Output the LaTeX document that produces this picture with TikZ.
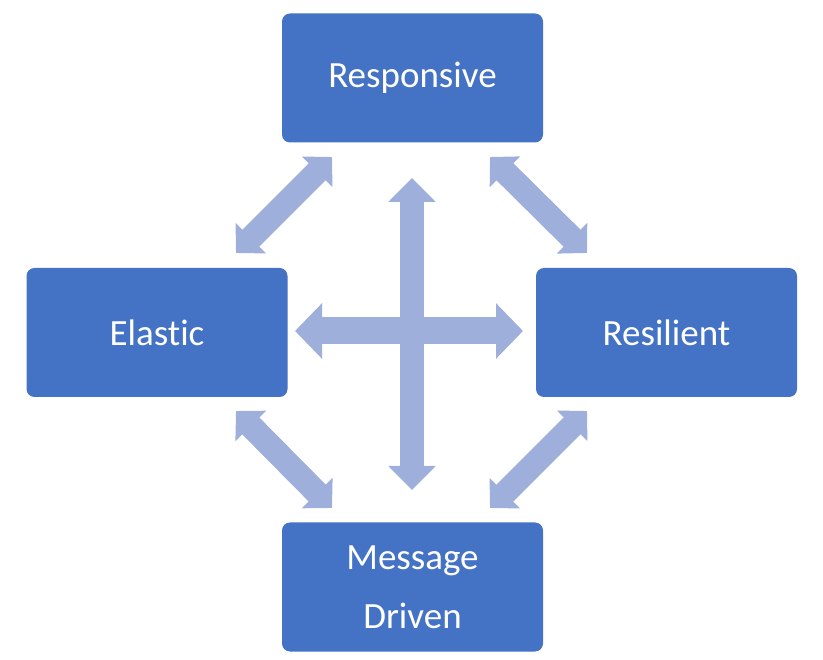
\documentclass[tikz,border=0pt]{standalone}
\usepackage{fontspec}
\setmainfont[Ligatures={NoCommon,NoDiscretionary}]{Carlito}
\usepackage{xcolor}
\usepackage{tikz}
\usetikzlibrary{arrows.meta}
\definecolor{boxblue}{HTML}{4472C4}
\definecolor{arrowblue}{HTML}{9EAFDB}
\tikzstyle{box}=[fill=boxblue, draw=none, shape=rectangle, rounded corners=8pt, minimum width=261pt, minimum height=129pt, text=white, align=center, font=\fontsize{37}{59}\selectfont]
\tikzstyle{straight arrow}=[draw=arrowblue, line width=24pt, {Triangle[length=24pt,width=46pt]}-{Triangle[length=24pt,width=46pt]}]
\tikzstyle{wide arrow}=[draw=arrowblue, line width=27pt, {Triangle[length=27pt,width=54pt]}-{Triangle[length=27pt,width=54pt]}]
\tikzstyle{diagonal arrow}=[draw=arrowblue, line width=24pt, {Triangle[length=21pt,width=42pt]}-{Triangle[length=21pt,width=42pt]}]
\pgfdeclarelayer{nodelayer}
\pgfdeclarelayer{edgelayer}
\pgfsetlayers{nodelayer,edgelayer}
\begin{document}
\begin{tikzpicture}[x=1pt, y=-1pt]
    	\useasboundingbox (0, 0) rectangle (823, 660);
    	\begin{pgfonlayer}{nodelayer}
    		\node [style=box] (0) at (412.5, 78) {Responsive};
    		\node [style=box] (1) at (157, 332.5) {Elastic};
    		\node [style=box] (2) at (666.5, 332.5) {Resilient};
    		\node [style=box] (3) at (412.5, 587) {Message\\Driven};
    		\coordinate (4) at (412, 178);
    		\coordinate (5) at (412, 490);
    		\coordinate (6) at (295, 331);
    		\coordinate (7) at (523, 331);
    		\coordinate (8) at (332, 157);
    		\coordinate (9) at (236, 253);
    		\coordinate (10) at (490, 157);
    		\coordinate (11) at (587, 253);
    		\coordinate (12) at (236, 411);
    		\coordinate (13) at (332, 508);
    		\coordinate (14) at (587, 411);
    		\coordinate (15) at (490, 508);
    	\end{pgfonlayer}
    	\begin{pgfonlayer}{edgelayer}
    		\draw [style=straight arrow] (4) to (5);
    		\draw [style=wide arrow] (6) to (7);
    		\draw [style=diagonal arrow] (8) to (9);
    		\draw [style=diagonal arrow] (10) to (11);
    		\draw [style=diagonal arrow] (12) to (13);
    		\draw [style=diagonal arrow] (14) to (15);
    	\end{pgfonlayer}
    \end{tikzpicture}
\end{document}
